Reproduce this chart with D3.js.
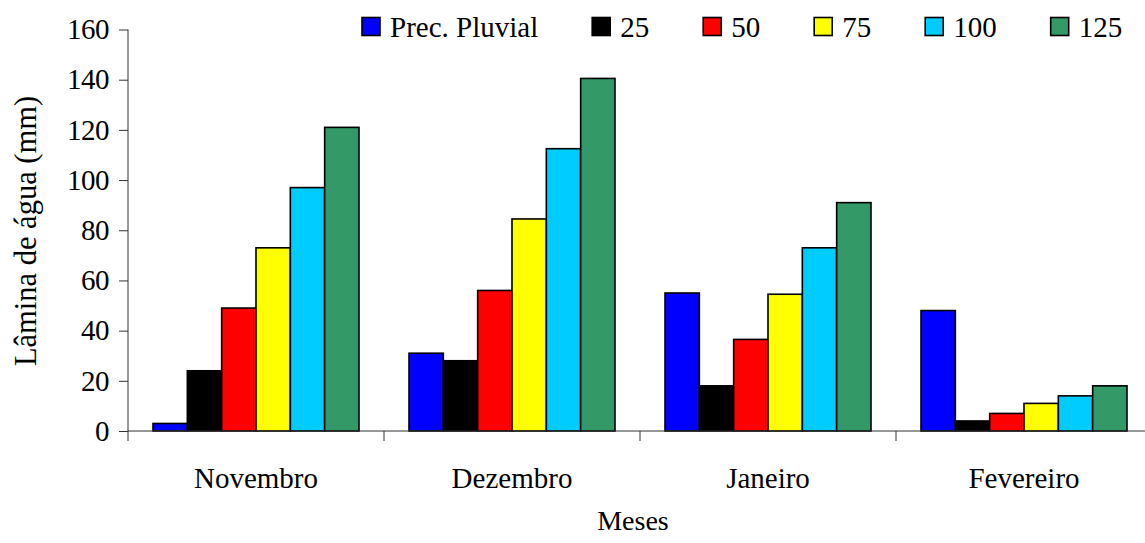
<!DOCTYPE html>
<html>
<head>
<meta charset="utf-8">
<script src="https://cdn.jsdelivr.net/npm/d3@7"></script>
</head>
<body style="margin:0">
<svg id="chart" width="1145" height="543"></svg>
<script>
// Meses do período avaliado
const months = ["Novembro", "Dezembro", "Janeiro", "Fevereiro"];
// Séries: precipitação pluvial e lâminas de irrigação (% da ECA)
const seriesNames = ["Prec. Pluvial", "25", "50", "75", "100", "125"];
const seriesColors = ["#0000ff", "#000000", "#ff0000", "#ffff00", "#00ccff", "#339966"];

// Lâmina de água (mm) por série, na ordem dos meses
const precPluvial = [3, 31, 55, 48];
const lamina25   = [24, 28, 18, 4];
const lamina50   = [49, 56, 36.5, 7];
const lamina75   = [73, 84.5, 54.5, 11];
const lamina100  = [97, 112.5, 73, 14];
const lamina125  = [121, 140.5, 91, 18];

const yTicks = [0, 20, 40, 60, 80, 100, 120, 140, 160];

const seriesValues = [precPluvial, lamina25, lamina50, lamina75, lamina100, lamina125];

const FONT = "'Liberation Serif'";
const FS = 29;

const svg = d3.select("#chart").style("display", "block");

const plot = { left: 128, right: 1152, top: 29.5, bottom: 431 };

const x0 = d3.scaleBand().domain(months).range([plot.left, plot.right]);
const groupPad = 25;
const x1 = d3.scaleBand().domain(seriesNames).range([groupPad, x0.bandwidth() - groupPad]);
const y = d3.scaleLinear().domain([0, 160]).range([plot.bottom, plot.top]);

// Barras
const groups = svg.append("g").selectAll("g")
  .data(months)
  .join("g")
  .attr("transform", d => `translate(${x0(d)},0)`);

groups.selectAll("rect")
  .data((m, i) => seriesNames.map((s, k) => ({ s, k, v: seriesValues[k][i] })))
  .join("rect")
  .attr("x", d => x1(d.s))
  .attr("y", d => y(d.v))
  .attr("width", x1.bandwidth())
  .attr("height", d => y(0) - y(d.v))
  .attr("fill", d => seriesColors[d.k])
  .attr("stroke", "#000")
  .attr("stroke-width", 1.6);

// Eixo Y
const yAxis = d3.axisLeft(y).tickValues(yTicks).tickSize(9).tickPadding(10).tickFormat(d3.format("d"));
const gy = svg.append("g").attr("transform", `translate(${plot.left},0)`).call(yAxis);
gy.attr("font-family", null).attr("font-size", null);
gy.select(".domain").remove();
gy.append("line")
  .attr("x1", 0).attr("x2", 0)
  .attr("y1", plot.top).attr("y2", plot.bottom + 10)
  .attr("stroke", "#333");
gy.selectAll(".tick line").attr("stroke", "#333");
gy.selectAll(".tick text")
  .style("font-family", FONT)
  .attr("font-size", FS)
  .attr("letter-spacing", -0.5)
  .attr("fill", "#000");

// Eixo X: linha base e marcas entre os meses
const gx = svg.append("g");
gx.append("line")
  .attr("x1", plot.left).attr("x2", plot.right)
  .attr("y1", plot.bottom).attr("y2", plot.bottom)
  .attr("stroke", "#333");
const boundaries = months.slice(1).map(m => x0(m)).concat([plot.right]);
gx.selectAll("line.sep")
  .data(boundaries)
  .join("line")
  .attr("class", "sep")
  .attr("x1", d => d).attr("x2", d => d)
  .attr("y1", plot.bottom).attr("y2", plot.bottom + 10)
  .attr("stroke", "#333");
gx.selectAll("text")
  .data(months)
  .join("text")
  .attr("x", d => x0(d) + x0.bandwidth() / 2)
  .attr("y", 488)
  .attr("text-anchor", "middle")
  .style("font-family", FONT)
  .attr("font-size", FS)
  .attr("fill", "#000")
  .text(d => d);

// Títulos dos eixos
svg.append("text")
  .attr("x", 633).attr("y", 530)
  .attr("text-anchor", "middle")
  .style("font-family", FONT)
  .attr("font-size", 28)
  .text("Meses");

svg.append("text")
  .attr("transform", "translate(36,231) rotate(-90)")
  .attr("text-anchor", "middle")
  .style("font-family", FONT)
  .attr("font-size", 30.5)
  .text("Lâmina de água (mm)");

// Legenda
const legend = svg.append("g");
let lx = 362;
seriesNames.forEach((name, k) => {
  const item = legend.append("g").attr("transform", `translate(${lx},0)`);
  item.append("rect")
    .attr("x", 0).attr("y", 17.5)
    .attr("width", 18).attr("height", 18)
    .attr("fill", seriesColors[k])
    .attr("stroke", "#000")
    .attr("stroke-width", 1.6);
  const t = item.append("text")
    .attr("x", 28).attr("y", 37)
    .style("font-family", FONT)
    .attr("font-size", FS)
    .text(name);
  lx += 28 + t.node().getComputedTextLength() + 54;
});
</script>
</body>
</html>
